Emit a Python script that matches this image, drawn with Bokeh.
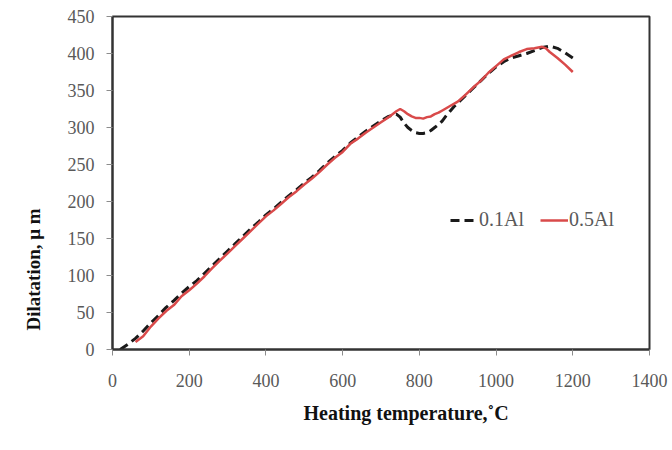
from bokeh.plotting import figure
from bokeh.models import Title, Legend, LegendItem, Range1d, FixedTicker
from bokeh.embed import file_html
from bokeh.resources import INLINE

# 0.5Al (red, solid)
x_05 = [60, 80, 100, 120, 140, 160, 180, 200, 220, 240, 260, 280, 300, 320, 340, 360, 380, 400,
        420, 440, 460, 480, 500, 520, 540, 560, 580, 600, 620, 640, 660, 680, 700, 720, 740, 750,
        760, 770, 780, 790, 800, 810, 820, 830, 840, 850, 860, 870, 880, 890, 900, 920, 940, 960,
        980, 1000, 1020, 1040, 1060, 1080, 1100, 1120, 1130, 1140, 1160, 1180, 1200]
y_05 = [10, 18, 31, 42, 52, 60, 72, 80, 89, 99, 110, 120, 130, 140, 150, 160, 170, 180,
        188, 197, 206, 214, 223, 231, 240, 250, 259, 267, 278, 285, 293, 300, 307, 314, 322, 325,
        322, 318, 315, 313, 313, 312, 314, 315, 318, 320, 323, 326, 329, 332, 335, 344, 354, 363,
        374, 383, 392, 397, 402, 406, 407, 409, 407, 402, 394, 385, 375]

# 0.1Al (black, dashed)
x_01 = [20, 40, 60, 80, 100, 120, 140, 160, 180, 200, 220, 240, 260, 280, 300, 320, 340, 360, 380,
        400, 420, 440, 460, 480, 500, 520, 540, 560, 580, 600, 620, 640, 660, 680, 700, 720, 740,
        750, 760, 770, 780, 790, 800, 810, 820, 830, 840, 850, 860, 870, 880, 890, 900, 920, 940,
        960, 980, 1000, 1020, 1040, 1060, 1080, 1100, 1120, 1140, 1160, 1180, 1200]
y_01 = [0, 7, 15, 25, 36, 46, 57, 66, 76, 85, 93, 103, 113, 123, 133, 143, 153, 163, 172,
        182, 190, 199, 208, 216, 225, 233, 242, 252, 261, 269, 279, 287, 295, 302, 309, 315, 318,
        314, 306, 300, 296, 293, 292, 292, 293, 296, 300, 304, 309, 316, 322, 328, 333, 343, 353,
        363, 373, 382, 389, 394, 397, 400, 404, 408, 410, 407, 401, 394]

x_ticks = [0, 200, 400, 600, 800, 1000, 1200, 1400]
y_ticks = [0, 50, 100, 150, 200, 250, 300, 350, 400, 450]

FONT = "Liberation Serif"
GRAY = "#595959"

p = figure(frame_width=537, frame_height=333, output_backend="svg", toolbar_location=None,
           min_border_left=112, min_border_right=23, min_border_top=16, min_border_bottom=101,
           x_range=Range1d(0, 1400), y_range=Range1d(0, 450))
p.background_fill_color = "white"
p.border_fill_color = "white"
p.outline_line_color = "#333333"
p.outline_line_width = 2
p.xgrid.visible = False
p.ygrid.visible = False

for ax in (p.xaxis[0], p.yaxis[0]):
    ax.axis_line_color = "#333333"
    ax.axis_line_width = 2
    ax.major_tick_line_color = "#8c8c8c"
    ax.major_tick_out = 6
    ax.major_tick_in = 0
    ax.minor_tick_line_color = None
    ax.major_label_text_font = FONT
    ax.major_label_text_font_size = "18px"
    ax.major_label_text_color = GRAY
p.xaxis[0].ticker = FixedTicker(ticks=x_ticks)
p.yaxis[0].ticker = FixedTicker(ticks=y_ticks)
p.xaxis[0].major_label_standoff = 18
p.yaxis[0].major_label_standoff = 12

r01 = p.line(x_01, y_01, line_color="#1a1a1a", line_width=3, line_dash="9 5")
r05 = p.line(x_05, y_05, line_color="#d94a4a", line_width=2.5)

legend = Legend(items=[LegendItem(label="0.1Al", renderers=[r01]),
                       LegendItem(label="0.5Al", renderers=[r05])],
                location=(338, 118), orientation="horizontal",
                label_text_font=FONT, label_text_font_size="20px", label_text_color=GRAY,
                glyph_width=28, label_standoff=1, spacing=16, padding=0, margin=0,
                border_line_color=None, background_fill_alpha=0)
p.add_layout(legend)

ytitle = Title(text="Dilatation,  μ m", align="left", offset=19, standoff=41,
               text_font=FONT, text_font_style="bold", text_font_size="19px",
               text_color="#111111")
p.add_layout(ytitle, "left")
xtitle = Title(text="Heating temperature,˚C", align="left", offset=191, standoff=20,
               text_font=FONT, text_font_style="bold", text_font_size="20px",
               text_color="#111111")
p.add_layout(xtitle, "below")

open("out.html", "w").write(file_html(p, INLINE))
